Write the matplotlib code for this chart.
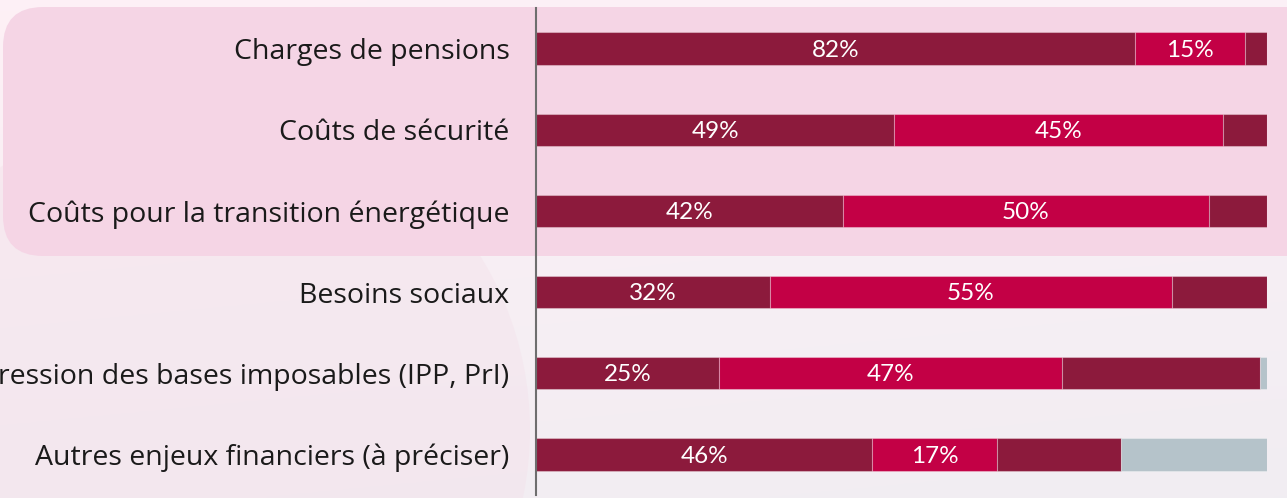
import numpy as np
import matplotlib
matplotlib.use("Agg")
import matplotlib.pyplot as plt
from matplotlib.patches import FancyBboxPatch, Circle

categories = [
    "Charges de pensions",
    "Coûts de sécurité",
    "Coûts pour la transition énergétique",
    "Besoins sociaux",
    "Régression des bases imposables (IPP, PrI)",
    "Autres enjeux financiers (à préciser)",
]
part_1 = [82, 49, 42, 32, 25, 46]
part_2 = [15, 45, 50, 55, 47, 17]
part_3 = [3, 6, 8, 13, 27, 17]
part_4 = [0, 0, 0, 0, 1, 20]

c_dark = "#8c1a3c"
c_red = "#c30045"
c_grey = "#b5c3ca"

W, H = 1287, 498
fig = plt.figure(figsize=(W / 100, H / 100), dpi=100)

# soft background wash
bg = fig.add_axes([0, 0, 1, 1], zorder=-10)
yy = np.linspace(0, 1, 200)[:, None]
xx = np.linspace(0, 1, 400)[None, :]
top = np.array([0.985, 0.945, 0.965])
bot = np.array([0.945, 0.93, 0.95])
img = top * (1 - yy[..., None]) + bot * yy[..., None] + 0.0 * xx[..., None]
img[..., 0] += 0.01 * (1 - xx)
img = np.clip(img, 0, 1)
bg.imshow(img, extent=[0, W, H, 0], aspect="auto")
bg.add_patch(Circle((200, 430), 330, color="#f3dde8", alpha=0.35, lw=0))
bg.add_patch(FancyBboxPatch((3 + 40, 7 + 40), 1330 - 80, 249 - 80,
                            boxstyle="round,pad=40", fc="#f5d4e5", ec="none", alpha=0.95))
bg.set_xlim(0, W)
bg.set_ylim(H, 0)
bg.axis("off")

ax = fig.add_axes([536 / W, 3 / H, 731 / W, 487 / H])
ax.patch.set_alpha(0)
y = np.arange(len(categories))
left = np.zeros(len(categories))
segments = [(part_1, c_dark, True), (part_2, c_red, True),
            (part_3, c_dark, False), (part_4, c_grey, False)]
for vals, col, show in segments:
    vals = np.array(vals, dtype=float)
    bars = ax.barh(y, vals, left=left, height=0.4, color=col,
                   edgecolor=(1, 1, 1, 0.3), linewidth=0.8, zorder=2)
    if show:
        for b, v in zip(bars, vals):
            ax.text(b.get_x() + b.get_width() / 2, b.get_y() + b.get_height() / 2 + 0.02,
                    f"{v:.0f}%", ha="center", va="center", color="white",
                    fontsize=17.5, family="Lato", zorder=5)
    left += vals

ax.set_xlim(0, 100)
ax.set_ylim(len(categories) - 0.5, -0.5)
ax.set_yticks(y)
ax.tick_params(axis="y", length=0, pad=19, labelsize=20.5, labelcolor="#1a1a1a")
ax.set_yticklabels(categories)
for lbl in ax.get_yticklabels():
    lbl.set_family("Open Sans")
    lbl.set_fontsize(20.5)
ax.set_xticks([])
for s in ["top", "right", "bottom"]:
    ax.spines[s].set_visible(False)
ax.spines["left"].set_color("#6e6e6e")
ax.spines["left"].set_linewidth(1.5)

fig.savefig("out.png", dpi=100)
